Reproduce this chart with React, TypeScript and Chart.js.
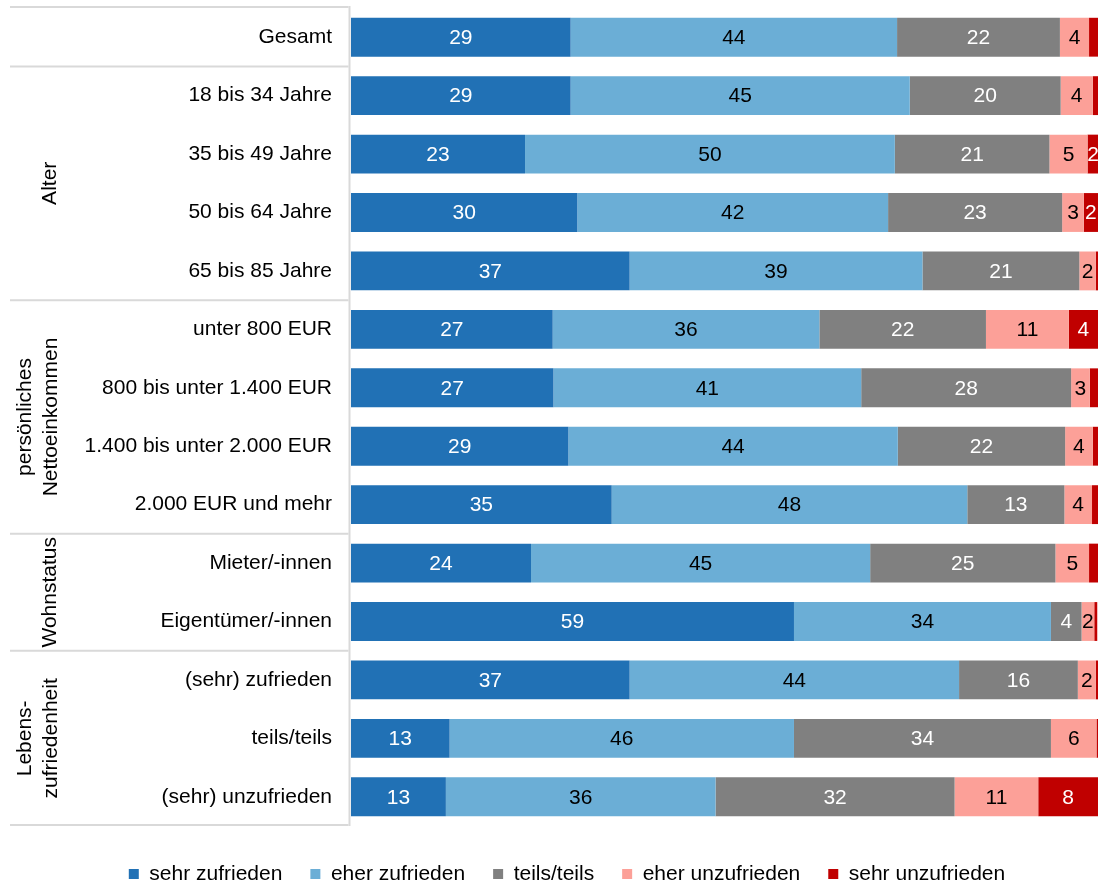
import { useEffect, useRef } from "react";
import { Chart, registerables } from "chart.js";

Chart.register(...registerables);

const FONT = "'Liberation Sans', Arial, Helvetica, sans-serif";

const categories = [
  "Gesamt",
  "18 bis 34 Jahre",
  "35 bis 49 Jahre",
  "50 bis 64 Jahre",
  "65 bis 85 Jahre",
  "unter 800 EUR",
  "800 bis unter 1.400 EUR",
  "1.400 bis unter 2.000 EUR",
  "2.000 EUR und mehr",
  "Mieter/-innen",
  "Eigentümer/-innen",
  "(sehr) zufrieden",
  "teils/teils",
  "(sehr) unzufrieden",
];

const seriesNames = [
  "sehr zufrieden",
  "eher zufrieden",
  "teils/teils",
  "eher unzufrieden",
  "sehr unzufrieden",
];

const sehrZufrieden = [29.4, 29.4, 23.3, 30.3, 37.3, 27.0, 27.1, 29.1, 34.9, 24.1, 59.3, 37.3, 13.2, 12.7];
const eherZufrieden = [43.7, 45.4, 49.5, 41.6, 39.2, 35.7, 41.2, 44.1, 47.6, 45.4, 34.4, 44.1, 46.1, 36.1];
const teilsTeils = [21.8, 20.2, 20.7, 23.3, 21.0, 22.3, 28.1, 22.4, 13.0, 24.8, 4.1, 15.9, 34.4, 32.0];
const eherUnzufrieden = [3.9, 4.3, 5.1, 2.9, 2.2, 11.1, 2.5, 3.7, 3.7, 4.5, 1.7, 2.4, 6.1, 11.2];
const sehrUnzufrieden = [1.2, 0.8, 1.5, 1.9, 0.3, 3.9, 1.1, 0.7, 0.8, 1.2, 0.4, 0.3, 0.2, 8.0];

const seriesValues = [sehrZufrieden, eherZufrieden, teilsTeils, eherUnzufrieden, sehrUnzufrieden];
const seriesColors = ["#2171B5", "#6BAED6", "#808080", "#FCA098", "#C00000"];
const labelColors = ["#ffffff", "#000000", "#ffffff", "#000000", "#ffffff"];

// groups of rows (first index, last index, label lines)
const groupLabels = [["Alter"], ["persönliches", "Nettoeinkommen"], ["Wohnstatus"], ["Lebens-", "zufriedenheit"]];
const groupFirst = [1, 5, 9, 11];
const groupLast = [4, 8, 10, 13];

const decorPlugin = {
  id: "decor",
  afterDatasetsDraw(chart: any) {
    const ctx = chart.ctx;
    ctx.save();
    ctx.font = `21px ${FONT}`;
    ctx.textAlign = "center";
    ctx.textBaseline = "middle";
    chart.data.datasets.forEach((ds: any, di: number) => {
      const meta = chart.getDatasetMeta(di);
      meta.data.forEach((bar: any, i: number) => {
        const v = ds.data[i];
        if (v < 1.5) return;
        const cx = (bar.x + bar.base) / 2;
        ctx.fillStyle = labelColors[di];
        ctx.fillText(String(Math.round(v)), cx, bar.y + 1);
      });
    });
    ctx.restore();
  },
  afterDraw(chart: any) {
    const ctx = chart.ctx;
    const area = chart.chartArea;
    const ys = chart.scales.y;
    ctx.save();
    ctx.strokeStyle = "#d9d9d9";
    ctx.lineWidth = 2;
    ctx.beginPath();
    ctx.moveTo(area.left - 1.5, area.top - 2);
    ctx.lineTo(area.left - 1.5, area.bottom);
    ctx.stroke();
    const lineYs: number[] = [area.top - 1];
    groupFirst.forEach((f) => {
      lineYs.push((ys.getPixelForValue(f - 1) + ys.getPixelForValue(f)) / 2);
    });
    lineYs.push(area.bottom - 1);
    lineYs.forEach((y) => {
      ctx.beginPath();
      ctx.moveTo(10, y);
      ctx.lineTo(area.left - 2.5, y);
      ctx.stroke();
    });
    ctx.fillStyle = "#000000";
    ctx.font = `21px ${FONT}`;
    ctx.textAlign = "center";
    ctx.textBaseline = "alphabetic";
    groupLabels.forEach((lines, gi) => {
      const cy = (ys.getPixelForValue(groupFirst[gi]) + ys.getPixelForValue(groupLast[gi])) / 2;
      const baselines = lines.length === 1 ? [56] : [31, 57];
      lines.forEach((t, li) => {
        ctx.save();
        ctx.translate(baselines[li], cy);
        ctx.rotate(-Math.PI / 2);
        ctx.fillText(t, 0, 0);
        ctx.restore();
      });
    });
    ctx.restore();
  },
};

export default function App() {
  const ref = useRef<HTMLCanvasElement | null>(null);

  useEffect(() => {
    if (!ref.current) return;
    Chart.defaults.font.family = FONT;
    const chart = new Chart(ref.current, {
      type: "bar",
      data: {
        labels: categories,
        datasets: seriesNames.map((name, i) => ({
          label: name,
          data: seriesValues[i],
          backgroundColor: seriesColors[i],
          borderWidth: 0,
          categoryPercentage: 1,
          barPercentage: 0.665,
        })),
      },
      options: {
        indexAxis: "y",
        animation: false,
        responsive: true,
        maintainAspectRatio: false,
        layout: { padding: { left: 36, right: 1, top: 8, bottom: -9.5 } },
        scales: {
          x: {
            stacked: true,
            min: 0,
            max: 100,
            display: true,
            ticks: { display: false },
            grid: { display: false },
            border: { display: false },
            afterFit: (s: any) => {
              s.height = 9.5;
              s.paddingLeft = 0;
              s.paddingRight = 0;
            },
          },
          y: {
            stacked: true,
            grid: { display: false },
            border: { display: false },
            ticks: {
              color: "#000000",
              padding: 11,
              font: { family: FONT, size: 21 },
              autoSkip: false,
            },
            afterFit: (s: any) => {
              s.width = 315;
              s.paddingTop = 0;
              s.paddingBottom = 0;
            },
          },
        },
        plugins: {
          tooltip: { enabled: false },
          legend: {
            position: "bottom",
            labels: {
              color: "#000000",
              font: { family: FONT, size: 21 },
              boxWidth: 10,
              boxHeight: 10,
              padding: 28,
            },
          },
        },
      },
      plugins: [decorPlugin],
    } as any);
    return () => chart.destroy();
  }, []);

  return (
    <div style={{ position: "absolute", left: 0, top: 0, width: 1099, height: 885, background: "#ffffff" }}>
      <canvas ref={ref} />
    </div>
  );
}
